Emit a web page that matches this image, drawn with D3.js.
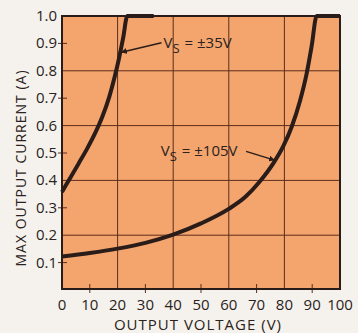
<!DOCTYPE html>
<html>
<head>
<meta charset="utf-8">
<script src="https://cdn.jsdelivr.net/npm/d3@7"></script>
<style>
  html, body { margin: 0; padding: 0; background: #f5f2ed; }
  svg { display: block; }
  text { font-family: "Open Sans", "DejaVu Sans", sans-serif; fill: #2a2220; }
</style>
</head>
<body>
<div id="app"></div>
<script>
const width = 358;
const height = 333;

// output voltage (V) vs max output current (A)
const vs35Volts   = [0, 3, 6, 9, 12, 14.5, 17, 19, 20.5, 22, 23.5, 33];
const vs35Amps    = [0.358, 0.41, 0.462, 0.515, 0.574, 0.632, 0.705, 0.78, 0.845, 0.92, 1.0, 1.0];
const vs105Volts  = [0, 10, 20, 30, 40, 50, 60, 66, 71, 76, 79.6, 82.6, 85.6, 88, 89.8, 91.6, 100];
const vs105Amps   = [0.122, 0.135, 0.151, 0.172, 0.202, 0.243, 0.296, 0.340, 0.394, 0.462, 0.525, 0.595, 0.69, 0.79, 0.89, 1.0, 1.0];

const xTicks = [0, 10, 20, 30, 40, 50, 60, 70, 80, 90, 100];
const yTicks = [0.1, 0.2, 0.3, 0.4, 0.5, 0.6, 0.7, 0.8, 0.9, 1.0];
const xGrid = [20, 40, 60, 80];
const yGrid = [0.2, 0.4, 0.6, 0.8];
const xMinor = [10, 30, 50, 70, 90];
const yMinor = [0.1, 0.3, 0.5, 0.7, 0.9];

const x = d3.scaleLinear().domain([0, 100]).range([62, 340]);
const y = d3.scaleLinear().domain([0, 1]).range([290, 16]);

const ink = '#2a1c18';
const gridColor = '#5e2c1c';

const svg = d3.select('#app').append('svg')
  .attr('width', width)
  .attr('height', height);

svg.append('rect')
  .attr('x', x(0)).attr('y', y(1))
  .attr('width', x(100) - x(0)).attr('height', y(0) - 1 - y(1))
  .attr('fill', '#f3a56d');

svg.append('g').selectAll('line').data(xGrid).enter().append('line')
  .attr('x1', d => x(d)).attr('x2', d => x(d))
  .attr('y1', y(0)).attr('y2', y(1))
  .attr('stroke', gridColor).attr('stroke-width', 1);

svg.append('g').selectAll('line').data(yGrid).enter().append('line')
  .attr('x1', x(0)).attr('x2', x(100))
  .attr('y1', d => y(d)).attr('y2', d => y(d))
  .attr('stroke', gridColor).attr('stroke-width', 1);

// minor ticks crossing the axes
svg.append('g').selectAll('line').data(xMinor).enter().append('line')
  .attr('x1', d => x(d)).attr('x2', d => x(d))
  .attr('y1', y(0) - 6).attr('y2', y(0) + 3)
  .attr('stroke', gridColor).attr('stroke-width', 1);

svg.append('g').selectAll('line').data(yMinor).enter().append('line')
  .attr('x1', x(0) - 4).attr('x2', x(0) + 5)
  .attr('y1', d => y(d)).attr('y2', d => y(d))
  .attr('stroke', gridColor).attr('stroke-width', 1);

// frame
svg.append('rect')
  .attr('x', x(0)).attr('y', y(1))
  .attr('width', x(100) - x(0)).attr('height', y(0) - 1 - y(1))
  .attr('fill', 'none')
  .attr('stroke', ink).attr('stroke-width', 2);

const line = d3.line()
  .x(d => x(d[0]))
  .y(d => y(d[1]))
  .curve(d3.curveMonotoneX);

const curves = [
  d3.zip(vs35Volts, vs35Amps),
  d3.zip(vs105Volts, vs105Amps)
];

svg.append('g').selectAll('path').data(curves).enter().append('path')
  .attr('d', line)
  .attr('fill', 'none')
  .attr('stroke', ink)
  .attr('stroke-width', 4)
  .attr('stroke-linejoin', 'round');

// tick labels
svg.append('g').selectAll('text').data(xTicks).enter().append('text')
  .attr('x', d => x(d))
  .attr('y', 310)
  .attr('text-anchor', 'middle')
  .attr('font-size', 15)
  .text(d => d);

svg.append('g').selectAll('text').data(yTicks).enter().append('text')
  .attr('x', 57)
  .attr('y', d => y(d) + 5)
  .attr('text-anchor', 'end')
  .attr('font-size', 15)
  .text(d => d.toFixed(1));

// axis titles
svg.append('text')
  .attr('x', 198).attr('y', 330)
  .attr('text-anchor', 'middle')
  .attr('font-size', 15)
  .attr('letter-spacing', 1)
  .text('OUTPUT VOLTAGE (V)');

svg.append('text')
  .attr('transform', 'translate(26,168) rotate(-90)')
  .attr('text-anchor', 'middle')
  .attr('font-size', 14)
  .attr('letter-spacing', 1)
  .text('MAX OUTPUT CURRENT (A)');

// annotations
svg.append('defs').append('marker')
  .attr('id', 'head')
  .attr('viewBox', '0 0 10 10')
  .attr('refX', 9).attr('refY', 5)
  .attr('markerWidth', 4).attr('markerHeight', 4)
  .attr('orient', 'auto')
  .append('path')
  .attr('d', 'M0,0 L10,5 L0,10 Z')
  .attr('fill', ink);

const notes = [
  { label: '±35V', tx: 36.5, ty: 0.885, from: [35.8, 0.902], to: [21.4, 0.868] },
  { label: '±105V', tx: 35.5, ty: 0.49, from: [66.2, 0.506], to: [76.4, 0.474] }
];

notes.forEach(n => {
  svg.append('line')
    .attr('x1', x(n.from[0])).attr('y1', y(n.from[1]))
    .attr('x2', x(n.to[0])).attr('y2', y(n.to[1]))
    .attr('stroke', ink).attr('stroke-width', 1.5)
    .attr('marker-end', 'url(#head)');
});

const noteText = svg.append('g').selectAll('text').data(notes).enter().append('text')
  .attr('x', d => x(d.tx))
  .attr('y', d => y(d.ty))
  .attr('font-size', 15);

noteText.append('tspan').text('V');
noteText.append('tspan').attr('dy', 5).attr('font-size', 13).text('S');
noteText.append('tspan').attr('dy', -5).attr('dx', 5).text(d => '= ' + d.label);
</script>
</body>
</html>
